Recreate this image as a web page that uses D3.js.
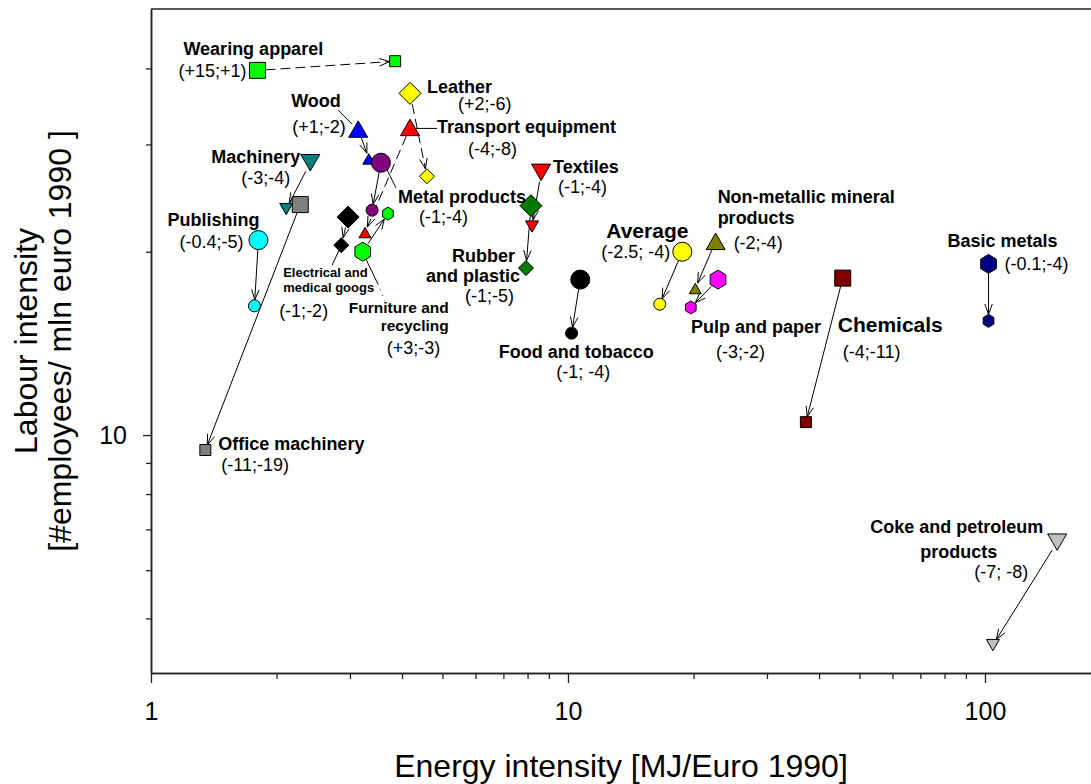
<!DOCTYPE html>
<html>
<head>
<meta charset="utf-8">
<script src="https://cdn.jsdelivr.net/npm/d3@7"></script>
<style>
  body { margin: 0; background: #fff; }
  svg { display: block; }
  text { font-family: Arial, "Liberation Sans", sans-serif; fill: #000; }
</style>
</head>
<body>
<svg id="chart" width="1091" height="784"></svg>
<script>
// Sector intensities: first year (start) and last year (end) of the period
const sectors = [
  "Wearing apparel", "Wood", "Machinery", "Office machinery", "Publishing",
  "Metal products", "Electrical and\nmedical googs", "Furniture and\nrecycling",
  "Transport equipment", "Leather", "Textiles", "Rubber\nand plastic",
  "Food and tobacco", "Average", "Non-metallic mineral\nproducts", "Pulp and paper",
  "Chemicals", "Basic metals", "Coke and petroleum\nproducts"
];
const energyStart = [1.80, 3.14, 2.41, 2.28, 1.81, 3.56, 2.97, 3.22, 4.18, 4.18, 8.62, 8.15, 10.7, 18.8, 22.6, 22.9, 45.6, 102, 149];
const labourStart = [39.7, 31.8, 28.0, 23.9, 20.9, 28.0, 22.8, 20.0, 32.0, 36.4, 27.0, 23.8, 18.0, 20.0, 20.8, 18.0, 18.1, 19.1, 6.67];
const energyEnd   = [3.85, 3.33, 2.11, 1.35, 1.77, 3.39, 2.86, 3.70, 3.26, 4.59, 8.20, 7.93, 10.2, 16.6, 20.2, 19.7, 37.2, 102, 104.5];
const labourEnd   = [41.1, 28.4, 23.5, 9.45, 16.3, 23.4, 20.5, 23.1, 21.5, 26.6, 22.0, 18.8, 14.7, 16.4, 17.4, 16.2, 10.5, 15.4, 4.52];
// Average annual change (energy; labour), %
const changes = [
  "(+15;+1)", "(+1;-2)", "(-3;-4)", "(-11;-19)", "(-0.4;-5)", "(-1;-4)", "(-1;-2)", "(+3;-3)",
  "(-4;-8)", "(+2;-6)", "(-1;-4)", "(-1;-5)", "(-1; -4)", "(-2.5; -4)", "(-2;-4)", "(-3;-2)",
  "(-4;-11)", "(-0.1;-4)", "(-7; -8)"
];
const xMajorTicks = [1, 10, 100];
const xMinorTicks = [2, 3, 4, 5, 6, 7, 8, 9, 20, 30, 40, 50, 60, 70, 80, 90];
const yMajorTicks = [10];
const yMinorTicks = [5, 6, 7, 8, 9, 20, 30, 40];
const xTitle = "Energy intensity [MJ/Euro 1990]";
const yTitle = ["Labour intensity", "[#employees/ mln euro 1990 ]"];

// Marker style per sector
const markerStyle = {
  "Wearing apparel":      { shape: "square",  fill: "#00ff00", dashed: true },
  "Wood":                 { shape: "triUp",   fill: "#0000ff" },
  "Machinery":            { shape: "triDown", fill: "#008080" },
  "Office machinery":     { shape: "square",  fill: "#808080" },
  "Publishing":           { shape: "circle",  fill: "#00ffff" },
  "Metal products":       { shape: "circle",  fill: "#800080" },
  "Electrical and\nmedical googs": { shape: "diamond", fill: "#000000" },
  "Furniture and\nrecycling":      { shape: "hexagon", fill: "#00ff00" },
  "Transport equipment":  { shape: "triUp",   fill: "#ff0000", dashed: true },
  "Leather":              { shape: "diamond", fill: "#ffff00", dashed: true },
  "Textiles":             { shape: "triDown", fill: "#ff0000" },
  "Rubber\nand plastic":  { shape: "diamond", fill: "#007a00" },
  "Food and tobacco":     { shape: "circle",  fill: "#000000" },
  "Average":              { shape: "circle",  fill: "#ffff00" },
  "Non-metallic mineral\nproducts": { shape: "triUp", fill: "#808000" },
  "Pulp and paper":       { shape: "hexagon", fill: "#ff00ff" },
  "Chemicals":            { shape: "square",  fill: "#800000" },
  "Basic metals":         { shape: "hexagon", fill: "#000080" },
  "Coke and petroleum\nproducts": { shape: "triDown", fill: "#c0c0c0" }
};
const markerSize = {
  square:  [16, 11], circle: [19, 12], triUp: [19, 12],
  triDown: [19, 13], diamond: [22, 15], hexagon: [19, 13]
};

// Label placement, offsets in px from the start (or end) marker
const labelLayout = [
  { names: [[-74, -15, "start"]], change: [-11, 7, "end"] },
  { names: [[-67, -22, "start"]], change: [-66, 4, "start"], leader: [[-20, -19], [-6, -5]] },
  { names: [[-10, 0, "end"]], change: [-69, 21, "start"] },
  { ref: "end", names: [[13, 0, "start"]], change: [16, 21, "start"] },
  { names: [[-91, -14, "start"]], change: [-15, 8, "end"] },
  { names: [[17, 40, "start"]], change: [38, 60, "start"], leader: [[4, 3], [15, 25]] },
  { size: 13, names: [[-65, 60, "start"], [-65, 75, "start"]], change: [-69, 100, "start"], leader: [[-9, 33], [-16, 48]] },
  { size: 15.5, names: [[86, 61, "end"], [86, 79, "end"]], change: [24, 102, "start"], leader: [[3, 7], [15, 32]], dots: [[15, 32], [22, 49]] },
  { names: [[27, 6, "start"]], change: [58, 28, "start"], leader: [[3, 1], [27, 1]] },
  { names: [[17, 0, "start"]], change: [48, 17, "start"] },
  { names: [[12, 1, "start"]], change: [17, 21, "start"] },
  { names: [[-16, 56, "end"], [-11, 76, "end"]], change: [-17, 96, "end"] },
  { names: [[-4, 78, "middle"]], change: [3, 98, "middle"] },
  { size: 21, names: [[-76, -14, "start"]], change: [-12, 6, "end"] },
  { names: [[2, -38, "start"], [2, -17, "start"]], change: [18, 8, "start"] },
  { names: [[-27, 53, "start"]], change: [-2, 78, "start"] },
  { size: 21, names: [[-5, 54, "start"]], change: [0, 80, "start"] },
  { names: [[-41, -17, "start"]], change: [16, 6, "start"] },
  { names: [[-14, -9, "end"], [-60, 16, "end"]], change: [-29, 36, "end"] }
];

(function () {
const svg = d3.select("#chart");
const plotLeft = 151, plotRight = 1091, plotTop = 9, plotBottom = 673;

const x = d3.scaleLog().domain([1, 179.6]).range([plotLeft, plotRight]);
const y = d3.scaleLog().domain([4.067, 50.07]).range([plotBottom, plotTop]);

// Axes
const axisColor = "#222";
function styleAxis(g) {
  g.selectAll("path.domain").attr("stroke", axisColor).attr("stroke-width", 1.5);
  g.selectAll(".tick line").attr("stroke", axisColor).attr("stroke-width", 1.3);
  g.selectAll(".tick text").attr("font-size", 25).attr("fill", "#000")
    .attr("font-family", "Arial, 'Liberation Sans', sans-serif");
}
svg.append("g").attr("transform", `translate(0,${plotBottom})`)
  .call(d3.axisBottom(x).tickValues(xMinorTicks).tickSize(6).tickSizeOuter(0).tickFormat(""))
  .call(styleAxis);
svg.append("g").attr("transform", `translate(0,${plotBottom})`)
  .call(d3.axisBottom(x).tickValues(xMajorTicks).tickSize(10).tickSizeOuter(0).tickPadding(19).tickFormat(d3.format("d")))
  .call(styleAxis);
svg.append("g").attr("transform", `translate(${plotLeft},0)`)
  .call(d3.axisLeft(y).tickValues(yMinorTicks).tickSize(5).tickSizeOuter(0).tickFormat(""))
  .call(styleAxis);
svg.append("g").attr("transform", `translate(${plotLeft},0)`)
  .call(d3.axisLeft(y).tickValues(yMajorTicks).tickSize(8).tickSizeOuter(0).tickPadding(16).tickFormat(d3.format("d")))
  .call(styleAxis);
svg.append("line").attr("x1", plotLeft).attr("x2", plotRight).attr("y1", plotTop).attr("y2", plotTop)
  .attr("stroke", axisColor).attr("stroke-width", 1.5);

// Axis titles
svg.append("text").attr("x", (plotLeft + plotRight) / 2).attr("y", 777)
  .attr("text-anchor", "middle").attr("font-size", 32).text(xTitle);
const yMid = (plotTop + plotBottom) / 2;
yTitle.forEach((t, i) => {
  svg.append("text")
    .attr("transform", `translate(${37 + i * 34},${yMid}) rotate(-90)`)
    .attr("text-anchor", "middle").attr("font-size", 32).text(t);
});

// Marker shapes, centred on (0,0), d = bounding size
function shapePath(type, d) {
  const r = d / 2;
  switch (type) {
    case "square": return `M${-r},${-r}H${r}V${r}H${-r}Z`;
    case "circle": return `M${r},0A${r},${r} 0 1,1 ${-r},0A${r},${r} 0 1,1 ${r},0Z`;
    case "triUp": { const h = d * 0.866 / 2; return `M0,${-h}L${r},${h}L${-r},${h}Z`; }
    case "triDown": { const h = d * 0.866 / 2; return `M0,${h}L${r},${-h}L${-r},${-h}Z`; }
    case "diamond": return `M0,${-r}L${r},0L0,${r}L${-r},0Z`;
    case "hexagon": {
      const pts = d3.range(6).map(k => {
        const a = (-90 + 60 * k) * Math.PI / 180;
        return [r * Math.cos(a) * 0.95, r * Math.sin(a)];
      });
      return "M" + pts.map(p => p.join(",")).join("L") + "Z";
    }
  }
}

const data = sectors.map((s, i) => ({
  name: s, change: changes[i],
  x1: x(energyStart[i]), y1: y(labourStart[i]),
  x2: x(energyEnd[i]), y2: y(labourEnd[i]),
  style: markerStyle[s], layout: labelLayout[i]
}));

// Arrows from start to end
const arrows = svg.append("g").attr("fill", "none").attr("stroke", "#000").attr("stroke-width", 1);
data.forEach(d => {
  const [bigD, smallD] = markerSize[d.style.shape];
  const dx = d.x2 - d.x1, dy = d.y2 - d.y1, len = Math.hypot(dx, dy);
  const ux = dx / len, uy = dy / len;
  const sx = d.x1 + ux * bigD * 0.5, sy = d.y1 + uy * bigD * 0.5;
  const ex = d.x2 - ux * smallD * 0.5, ey = d.y2 - uy * smallD * 0.5;
  arrows.append("line").attr("x1", sx).attr("y1", sy).attr("x2", ex).attr("y2", ey)
    .attr("stroke-dasharray", d.style.dashed ? "10,5" : null);
  const ang = Math.atan2(uy, ux), L = 11, phi = 20 * Math.PI / 180;
  const a1 = [ex - L * Math.cos(ang - phi), ey - L * Math.sin(ang - phi)];
  const a2 = [ex - L * Math.cos(ang + phi), ey - L * Math.sin(ang + phi)];
  arrows.append("path").attr("d", `M${a1}L${ex},${ey}L${a2}`);
});

// Leader lines from markers to their labels
const leaders = svg.append("g").attr("fill", "none").attr("stroke", "#000").attr("stroke-width", 1);
data.forEach(d => {
  const lay = d.layout;
  const rx = lay.ref === "end" ? d.x2 : d.x1, ry = lay.ref === "end" ? d.y2 : d.y1;
  if (lay.leader) {
    leaders.append("line")
      .attr("x1", rx + lay.leader[0][0]).attr("y1", ry + lay.leader[0][1])
      .attr("x2", rx + lay.leader[1][0]).attr("y2", ry + lay.leader[1][1]);
  }
  if (lay.dots) {
    leaders.append("line").attr("stroke-dasharray", "1,5")
      .attr("x1", rx + lay.dots[0][0]).attr("y1", ry + lay.dots[0][1])
      .attr("x2", rx + lay.dots[1][0]).attr("y2", ry + lay.dots[1][1]);
  }
});

// Markers: end (small) and start (large)
const marks = svg.append("g").attr("stroke", "#000").attr("stroke-width", 1);
data.forEach(d => {
  const [bigD, smallD] = markerSize[d.style.shape];
  marks.append("path").attr("d", shapePath(d.style.shape, smallD))
    .attr("transform", `translate(${d.x2},${d.y2})`).attr("fill", d.style.fill);
  marks.append("path").attr("d", shapePath(d.style.shape, bigD))
    .attr("transform", `translate(${d.x1},${d.y1})`).attr("fill", d.style.fill);
});

// Labels
const labels = svg.append("g");
data.forEach(d => {
  const lay = d.layout;
  const rx = lay.ref === "end" ? d.x2 : d.x1, ry = lay.ref === "end" ? d.y2 : d.y1;
  const lines = d.name.split("\n");
  lines.forEach((t, k) => {
    const p = lay.names[k];
    labels.append("text").attr("x", rx + p[0]).attr("y", ry + p[1])
      .attr("text-anchor", p[2]).attr("font-weight", "bold")
      .attr("font-size", lay.size || 18).text(t);
  });
  labels.append("text").attr("x", rx + lay.change[0]).attr("y", ry + lay.change[1])
    .attr("text-anchor", lay.change[2]).attr("font-size", 18).text(d.change);
});
})();
</script>
</body>
</html>
